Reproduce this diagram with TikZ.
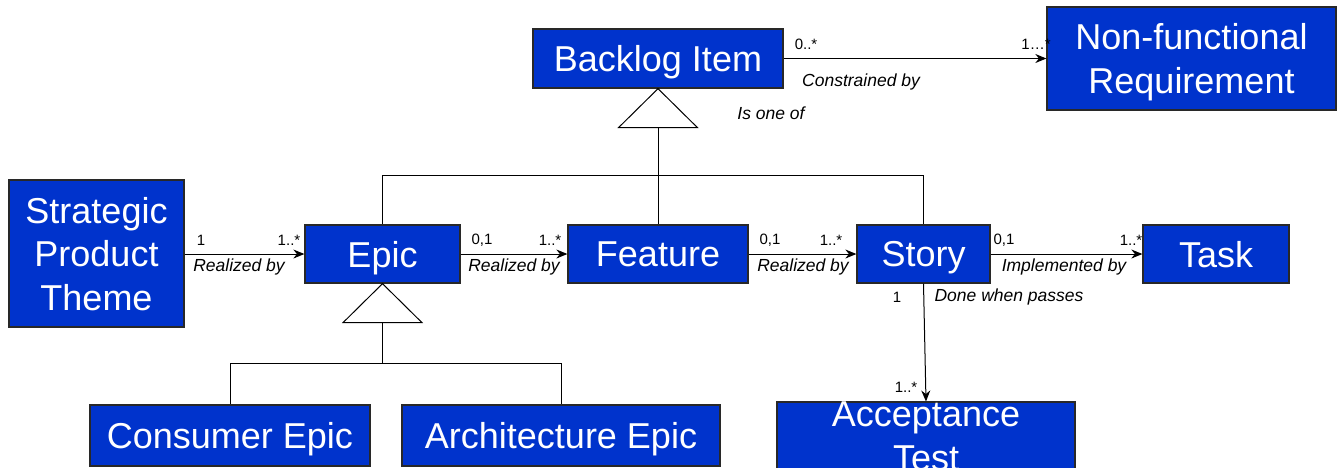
\documentclass[tikz,border=0pt]{standalone}
\usepackage{fontspec}
\setmainfont{Liberation Sans}
\usetikzlibrary{arrows.meta}
\definecolor{boxblue}{RGB}{0,51,204}
\definecolor{boxedge}{RGB}{40,40,40}
\tikzset{
  cls/.style={draw=boxedge, line width=1.3pt, fill=boxblue, text=white,
    font=\fontsize{36}{43.5}\selectfont, align=center, inner sep=0pt,
    text depth=0pt},
  lbl/.style={font=\fontsize{17.5}{20}\selectfont\itshape, inner sep=0pt},
  mult/.style={font=\fontsize{15}{18}\selectfont, inner sep=0pt},
  assoc/.style={line width=1pt, -{Stealth[length=11pt,width=9pt]}},
  gen/.style={line width=1pt, line join=miter},
}
\begin{document}
\begin{tikzpicture}[x=1pt,y=-1pt]
\useasboundingbox (0,0) rectangle (1338,467);

% classes
\node[cls, minimum width=250, minimum height=59] (bi) at (658,58.5) {Backlog Item};
\node[cls, minimum width=289, minimum height=103] (nfr) at (1191.5,58.5) {Non-functional\\Requirement};
\node[cls, minimum width=175, minimum height=147] (spt) at (96.5,253.5) {Strategic\\Product\\Theme};
\node[cls, minimum width=155, minimum height=58] (epic) at (382.5,254) {Epic};
\node[cls, minimum width=180, minimum height=58] (feat) at (658,254) {Feature};
\node[cls, minimum width=133, minimum height=58] (story) at (923.5,254) {Story};
\node[cls, minimum width=146, minimum height=58] (task) at (1216,254) {Task};
\node[cls, minimum width=298, minimum height=61, font=\fontsize{36}{44}\selectfont] (acc) at (926,436.5) {Acceptance\\Test};
\node[cls, minimum width=280, minimum height=61] (ce) at (230,435.5) {Consumer Epic};
\node[cls, minimum width=318, minimum height=61] (ae) at (561,435.5) {Architecture Epic};

% generalization: Epic / Feature / Story are Backlog Items
\draw[gen] (bi.south) -- ++(-39.5,39) coordinate (t1l) -- ++(79,0) -- cycle;
\coordinate (j1) at (658,175);
\draw[gen] (bi.south |- t1l) -- (j1);
\draw[gen] (epic.north) -- (epic.north |- j1) -- (story.north |- j1) -- (story.north);
\draw[gen] (j1) -- (feat.north);

% generalization: Consumer / Architecture Epic are Epics
\draw[gen] (epic.south) -- ++(-39.5,39) coordinate (t2l) -- ++(79,0) -- cycle;
\coordinate (j2) at (382.5,363);
\draw[gen] (epic.south |- t2l) -- (j2);
\draw[gen] (ce.north) -- (ce.north |- j2) -- (ae.north |- j2) -- (ae.north);

% associations
\draw[assoc] (bi.east) -- (nfr.west |- bi.east);
\draw[assoc] (spt.east |- epic.west) -- (epic.west);
\draw[assoc] (epic.east) -- (feat.west);
\draw[assoc] (feat.east) -- (story.west);
\draw[assoc] (story.east) -- (task.west);
\draw[assoc] (story.south) -- (acc.north);

% multiplicities and role names
\node[mult] (m1) at (806,44) {0..*};
\node[mult] (m2) at (1036,44) {1…*};
\node[lbl] (l1) at (861,82) {Constrained by};
\node[lbl] (l2) at (771,113) {Is one of};

\node[mult] (m3) at (201,240) {1};
\node[mult] (m4) at (289,240) {1..*};
\node[lbl] (l3) at (239,267) {Realized by};

\node[mult] (m5) at (482,240) {0,1};
\node[mult] (m6) at (550,240) {1..*};
\node[lbl] (l4) at (514,267) {Realized by};

\node[mult] (m7) at (770,240) {0,1};
\node[mult] (m8) at (831,240) {1..*};
\node[lbl] (l5) at (803,267) {Realized by};

\node[mult] (m9) at (1004,240) {0,1};
\node[mult] (m10) at (1131,240) {1..*};
\node[lbl] (l6) at (1064,267) {Implemented by};

\node[mult] (m11) at (897,297) {1};
\node[lbl] (l7) at (1009,297) {Done when passes};
\node[mult] (m12) at (906,387) {1..*};
\end{tikzpicture}
\end{document}
